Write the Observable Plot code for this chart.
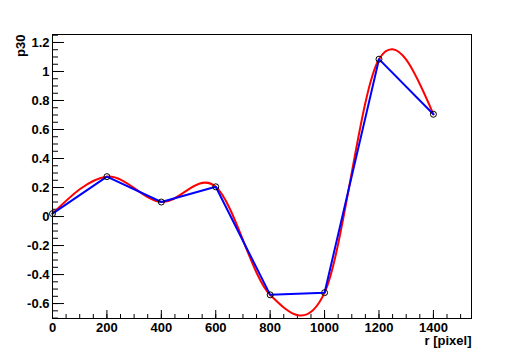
<!DOCTYPE html>
<html>
<head>
<meta charset="utf-8">
<script src="https://cdn.jsdelivr.net/npm/d3@7"></script>
<script src="https://cdn.jsdelivr.net/npm/@observablehq/plot@0.6"></script>
<style>
  html, body { margin: 0; padding: 0; background: #fff; }
  svg { display: block; }
</style>
</head>
<body>
<div id="chart"></div>
<script>
const rValues = [0, 200, 400, 600, 800, 1000, 1200, 1400];
const p30Values = [0.02, 0.275, 0.10, 0.205, -0.54, -0.525, 1.085, 0.705];
const xMajorTicks = [0, 200, 400, 600, 800, 1000, 1200, 1400];
const yMajorTicks = [-0.6, -0.4, -0.2, 0, 0.2, 0.4, 0.6, 0.8, 1, 1.2];
const xLabel = "r [pixel]";
const yLabel = "p30";

const data = rValues.map((r, i) => ({r, p: p30Values[i]}));
const xDomain = [0, 1540];
const yDomain = [-0.703, 1.255];
const xMinor = d3.ticks(xDomain[0], xDomain[1], 31);
const yMinor = d3.ticks(yDomain[0], yDomain[1], 40);
const fmt = d => String(d);
const font = "Liberation Sans, Arial, Helvetica, sans-serif";

// Smooth interpolating curve: central-difference tangents inside, natural (zero curvature) ends
function smoothCurve(context) {
  let pts = [];
  return {
    areaStart() {}, areaEnd() {},
    lineStart() { pts = []; },
    point(x, y) { pts.push([+x, +y]); },
    lineEnd() {
      const n = pts.length;
      if (!n) return;
      context.moveTo(pts[0][0], pts[0][1]);
      if (n === 1) return;
      if (n === 2) { context.lineTo(pts[1][0], pts[1][1]); return; }
      const T = pts.map(() => [0, 0]);
      for (let i = 1; i < n - 1; i++) {
        T[i] = [(pts[i + 1][0] - pts[i - 1][0]) / 2, (pts[i + 1][1] - pts[i - 1][1]) / 2];
      }
      T[0] = [(3 * (pts[1][0] - pts[0][0]) - T[1][0]) / 2, (3 * (pts[1][1] - pts[0][1]) - T[1][1]) / 2];
      T[n - 1] = [(3 * (pts[n - 1][0] - pts[n - 2][0]) - T[n - 2][0]) / 2, (3 * (pts[n - 1][1] - pts[n - 2][1]) - T[n - 2][1]) / 2];
      for (let i = 0; i < n - 1; i++) {
        const p0 = pts[i], p1 = pts[i + 1];
        context.bezierCurveTo(
          p0[0] + T[i][0] / 3, p0[1] + T[i][1] / 3,
          p1[0] - T[i + 1][0] / 3, p1[1] - T[i + 1][1] / 3,
          p1[0], p1[1]
        );
      }
    }
  };
}

const chart = Plot.plot({
  width: 523,
  height: 354,
  marginLeft: 52,
  marginRight: 52,
  marginTop: 34,
  marginBottom: 36,
  style: {fontFamily: font, fontSize: "13px", fontWeight: "bold", color: "#000", background: "#fff"},
  x: {domain: xDomain},
  y: {domain: yDomain},
  marks: [
    Plot.axisX(xMinor, {tickSize: -4, fill: "none", label: null, stroke: "#000"}),
    Plot.axisX(xMajorTicks, {tickSize: -8, fill: "none", label: null, stroke: "#000"}),
    Plot.axisX(xMajorTicks, {tickSize: 0, tickPadding: 4, tickFormat: fmt, label: null, fontSize: 13, fontWeight: "bold"}),
    Plot.axisY(yMinor, {tickSize: -6, fill: "none", label: null, stroke: "#000"}),
    Plot.axisY(yMajorTicks, {tickSize: -12, fill: "none", label: null, stroke: "#000"}),
    Plot.axisY(yMajorTicks, {tickSize: 0, tickPadding: 3, tickFormat: fmt, label: null, fontSize: 13, fontWeight: "bold"}),
    Plot.text([xLabel], {frameAnchor: "bottom-right", textAnchor: "end", lineAnchor: "bottom", dy: 26, fontSize: 13, fontWeight: "bold", fill: "#000"}),
    Plot.text([yLabel], {frameAnchor: "top-left", rotate: -90, textAnchor: "end", lineAnchor: "bottom", dx: -28, fontSize: 13, fontWeight: "bold", fill: "#000"}),
    Plot.line(data, {x: "r", y: "p", curve: smoothCurve, stroke: "#ff0000", strokeWidth: 2}),
    Plot.line(data, {x: "r", y: "p", stroke: "#0000ff", strokeWidth: 2}),
    Plot.dot(data, {x: "r", y: "p", r: 3, stroke: "#000", strokeWidth: 1, fill: "none"}),
    Plot.frame({stroke: "#000", strokeWidth: 1})
  ]
});
document.getElementById("chart").append(chart);
</script>
</body>
</html>
